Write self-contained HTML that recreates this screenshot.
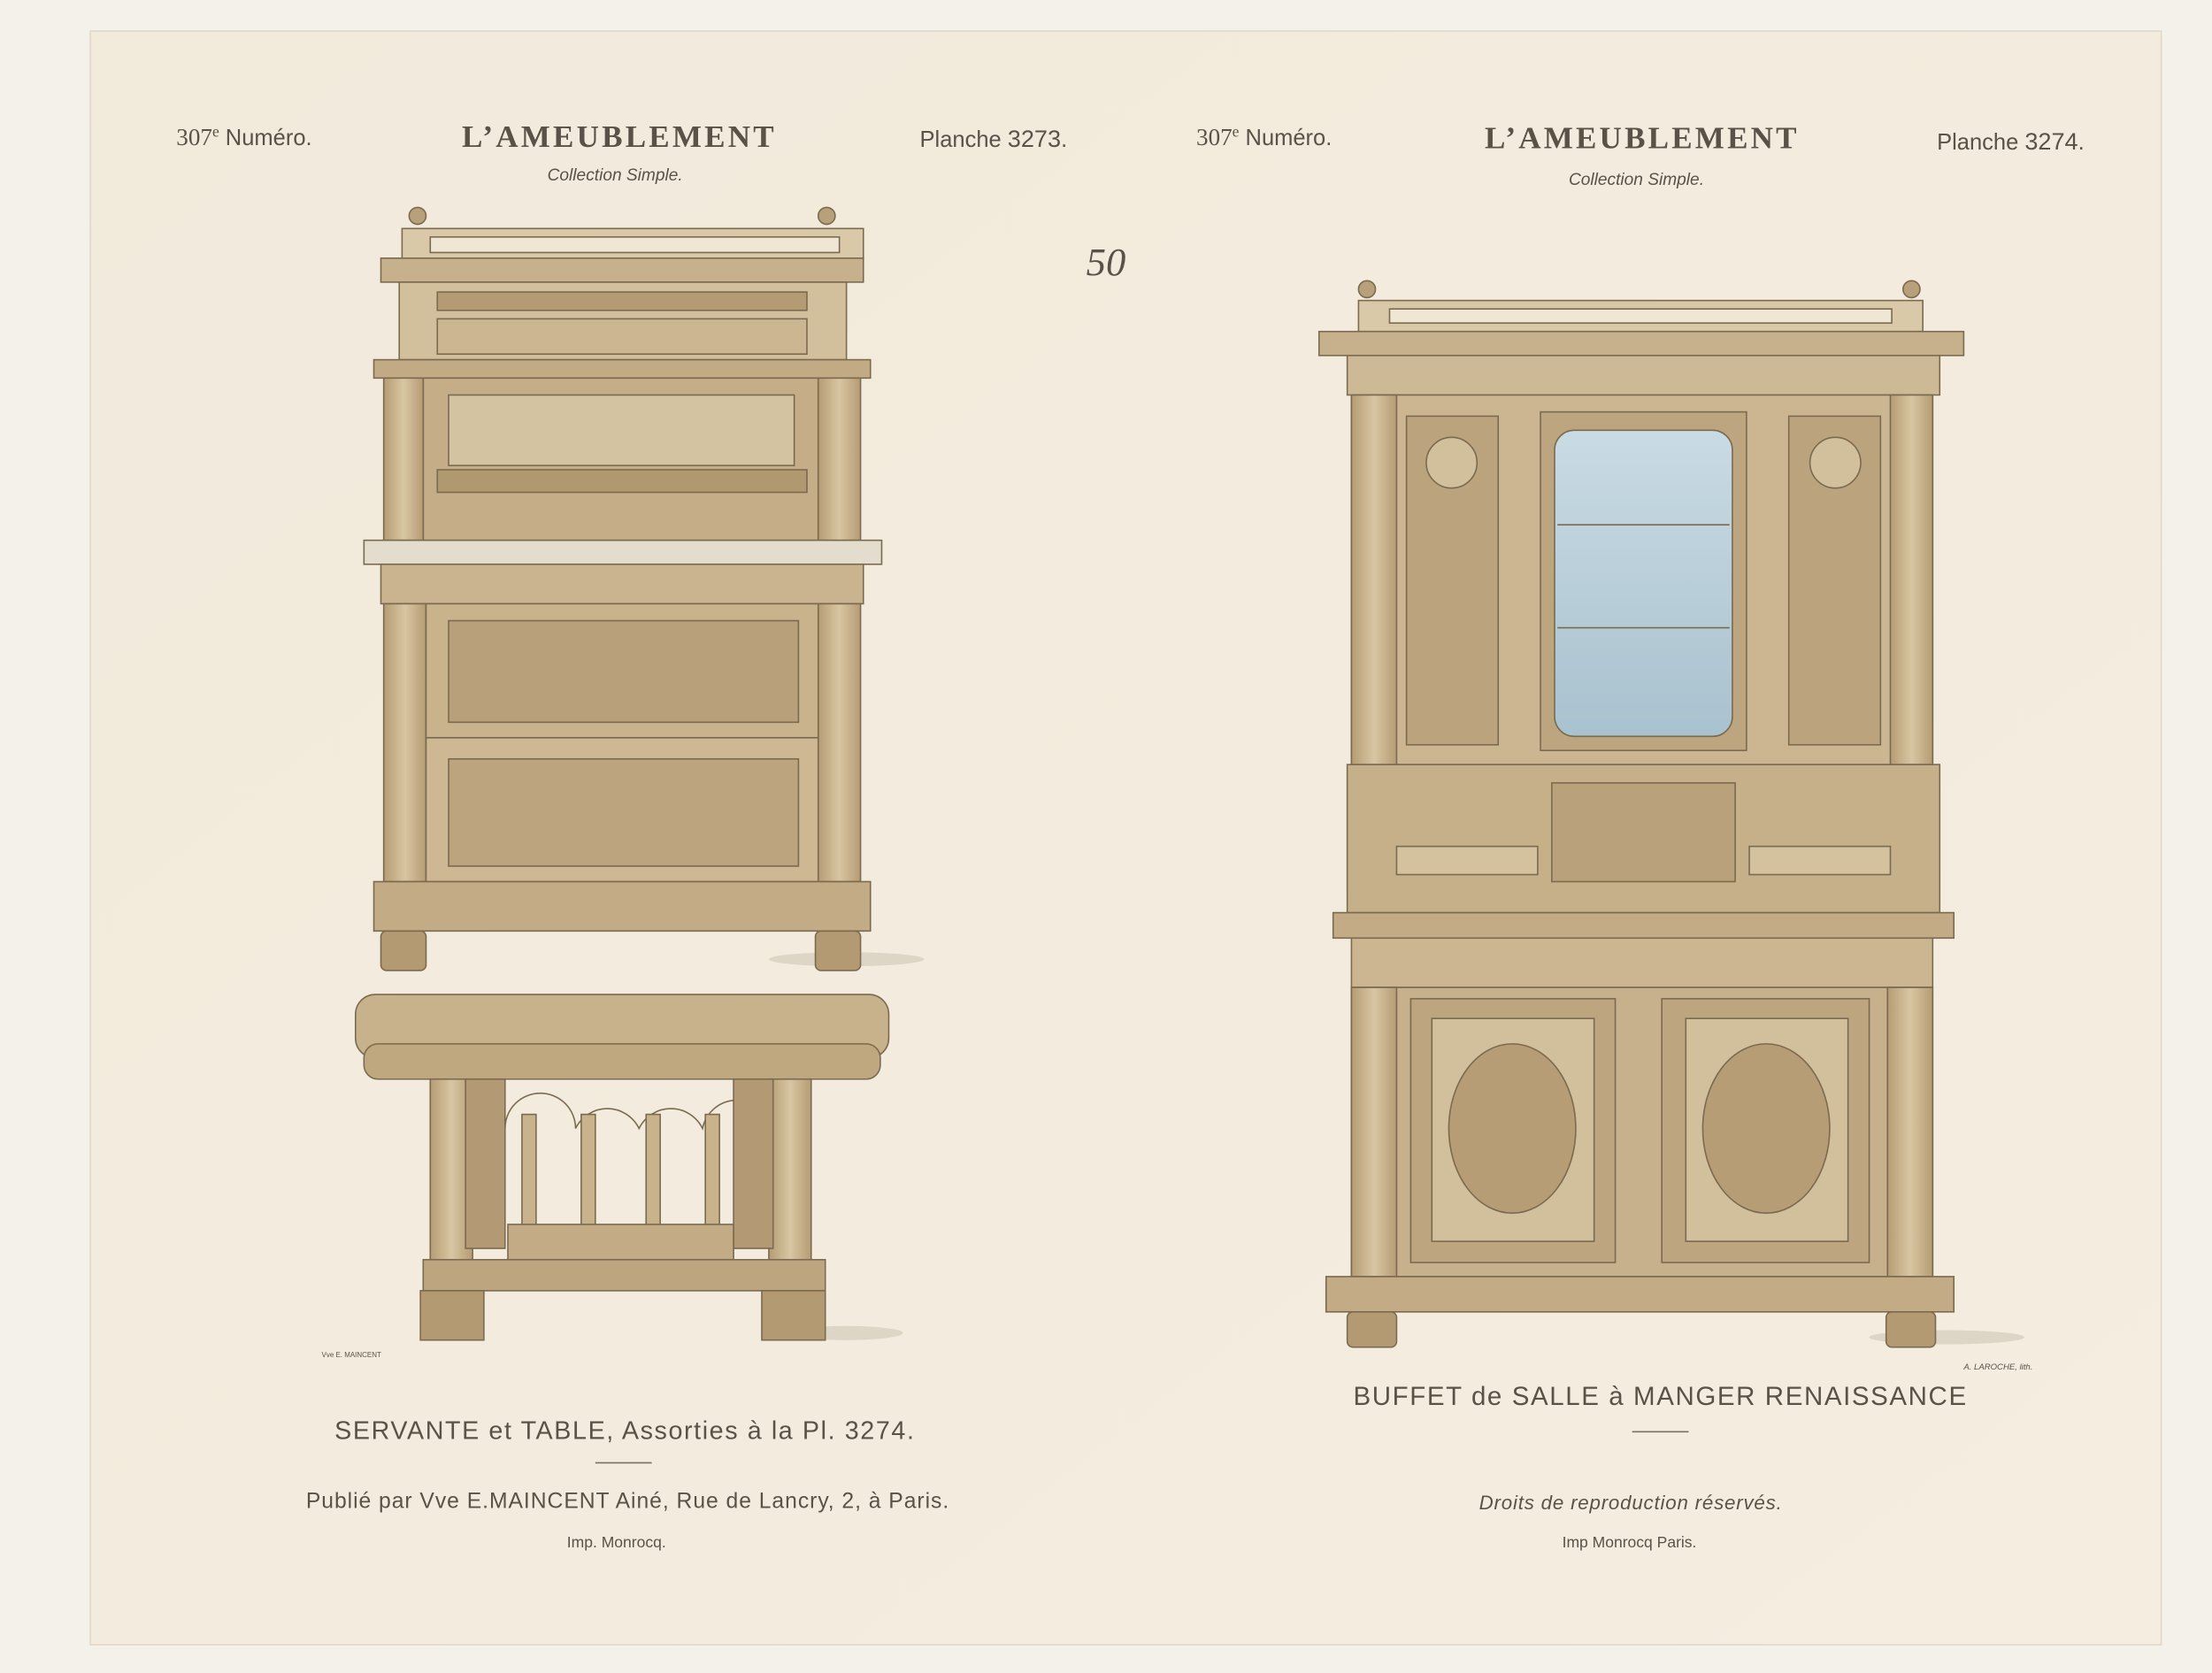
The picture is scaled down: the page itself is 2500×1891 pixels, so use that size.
<!DOCTYPE html>
<html><head><meta charset="utf-8"><style>
html,body{margin:0;padding:0;background:#f4f1eb;}
svg{display:block}
text{font-family:"Liberation Serif",serif;fill:#5a5248}
.s{font-family:"Liberation Sans",sans-serif}
</style></head><body>
<svg width="2500" height="1891" viewBox="0 0 1568 1186" xmlns="http://www.w3.org/2000/svg">
<defs>
<linearGradient id="pap" x1="0" y1="0" x2="1" y2="1"><stop offset="0" stop-color="#f2eadb"/><stop offset="1" stop-color="#f4ede0"/></linearGradient>
<linearGradient id="wd" x1="0" y1="0" x2="1" y2="0"><stop offset="0" stop-color="#b59c74"/><stop offset=".5" stop-color="#d8c6a2"/><stop offset="1" stop-color="#b59c74"/></linearGradient>
<linearGradient id="gl" x1="0" y1="0" x2="0" y2="1"><stop offset="0" stop-color="#c9dbe3"/><stop offset="1" stop-color="#a9c2cf"/></linearGradient>
</defs>
<rect x="64" y="22" width="1468" height="1144" fill="url(#pap)" stroke="#e0d8c8"/>
<g font-size="16">
<text x="125" y="103" font-size="17">307<tspan font-size="11" dy="-6">e</tspan><tspan dy="6" font-size="16" class="s"> Numéro.</tspan></text>
<text x="439" y="104" font-size="22" letter-spacing="2" text-anchor="middle" fill="#4a433b" font-weight="bold">L’AMEUBLEMENT</text>
<text x="436" y="128" font-size="12" font-style="italic" text-anchor="middle" class="s">Collection Simple.</text>
<text x="652" y="104" class="s" font-size="16">Planche <tspan font-size="17">3273</tspan>.</text>
<text x="848" y="103" font-size="17">307<tspan font-size="11" dy="-6">e</tspan><tspan dy="6" font-size="16" class="s"> Numéro.</tspan></text>
<text x="1164" y="105" font-size="22" letter-spacing="2" text-anchor="middle" fill="#4a433b" font-weight="bold">L’AMEUBLEMENT</text>
<text x="1160" y="131" font-size="12" font-style="italic" text-anchor="middle" class="s">Collection Simple.</text>
<text x="1373" y="106" class="s" font-size="16">Planche <tspan font-size="17">3274</tspan>.</text>
<text x="770" y="195" font-size="28" font-style="italic" fill="#6a6870">50</text>
<text x="443" y="1020" text-anchor="middle" class="s" font-size="18" letter-spacing="1">SERVANTE et TABLE, Assorties à la Pl. 3274.</text>
<line x1="422" y1="1037" x2="462" y2="1037" stroke="#7a7060"/>
<text x="445" y="1069" text-anchor="middle" class="s" font-size="15.5" letter-spacing="0.6">Publié par Vve E.MAINCENT Ainé, Rue de Lancry, 2, à Paris.</text>
<text x="437" y="1097" text-anchor="middle" class="s" font-size="11">Imp. Monrocq.</text>
<text x="1177" y="996" text-anchor="middle" class="s" font-size="18.5" letter-spacing="1">BUFFET de SALLE à MANGER RENAISSANCE</text>
<line x1="1157" y1="1015" x2="1197" y2="1015" stroke="#7a7060"/>
<text x="1156" y="1070" text-anchor="middle" class="s" font-size="14" font-style="italic" letter-spacing="0.5">Droits de reproduction réservés.</text>
<text x="1155" y="1097" text-anchor="middle" class="s" font-size="11">Imp Monrocq Paris.</text>
<text x="228" y="962" class="s" font-size="5">Vve E. MAINCENT</text>
<text x="1392" y="971" class="s" font-size="6" font-style="italic">A. LAROCHE, lith.</text>
</g>
<!-- SERVANTE -->
<g stroke="#7a6a50" stroke-width="1">
<ellipse cx="600" cy="680" rx="55" ry="5" fill="#ddd5c5" stroke="none"/>
<circle cx="296" cy="153" r="6" fill="#b8a07a"/><circle cx="586" cy="153" r="6" fill="#b8a07a"/>
<rect x="285" y="162" width="327" height="22" fill="#d9c9a8"/>
<rect x="305" y="168" width="290" height="11" fill="#efe6d3"/>
<rect x="270" y="183" width="342" height="17" fill="#c7b18c"/>
<rect x="283" y="200" width="317" height="55" fill="#d2bf9c"/>
<rect x="310" y="207" width="262" height="13" fill="#b49b74"/>
<rect x="310" y="226" width="262" height="25" fill="#cbb691"/>
<rect x="265" y="255" width="352" height="13" fill="#c2ab84"/>
<rect x="300" y="268" width="280" height="115" fill="#c4ad87"/>
<rect x="318" y="280" width="245" height="50" fill="#d4c3a1"/>
<rect x="310" y="333" width="262" height="16" fill="#b09870"/>
<rect x="272" y="268" width="28" height="115" fill="url(#wd)"/>
<rect x="580" y="268" width="30" height="115" fill="url(#wd)"/>
<rect x="258" y="383" width="367" height="17" fill="#e4dccc"/>
<rect x="270" y="400" width="342" height="28" fill="#c9b48f"/>
<rect x="272" y="428" width="30" height="197" fill="url(#wd)"/>
<rect x="580" y="428" width="30" height="197" fill="url(#wd)"/>
<rect x="302" y="428" width="278" height="95" fill="#c9b38d"/>
<rect x="318" y="440" width="248" height="72" fill="#b8a07a"/>
<rect x="302" y="523" width="278" height="102" fill="#cdb893"/>
<rect x="318" y="538" width="248" height="76" fill="#bca47e"/>
<rect x="265" y="625" width="352" height="35" fill="#c2ab85"/>
<rect x="270" y="660" width="32" height="28" rx="4" fill="#b39a73"/>
<rect x="578" y="660" width="32" height="28" rx="4" fill="#b39a73"/>
</g>
<!-- TABLE -->
<g stroke="#7a6a50" stroke-width="1">
<ellipse cx="600" cy="945" rx="40" ry="5" fill="#ddd5c5" stroke="none"/>
<rect x="252" y="705" width="378" height="45" rx="14" fill="#c8b28c"/>
<rect x="258" y="740" width="366" height="25" rx="10" fill="#bfa880"/>
<rect x="305" y="765" width="30" height="150" fill="url(#wd)"/>
<rect x="545" y="765" width="30" height="150" fill="url(#wd)"/>
<rect x="330" y="765" width="28" height="120" fill="#b39a74"/>
<rect x="520" y="765" width="28" height="120" fill="#b39a74"/>
<path d="M358 800 a25 25 0 0 1 50 0 a25 25 0 0 1 45 0 a25 25 0 0 1 45 0 a25 25 0 0 1 22 -20" fill="none"/>
<rect x="370" y="790" width="10" height="80" fill="#c9b38d"/>
<rect x="412" y="790" width="10" height="80" fill="#c9b38d"/>
<rect x="458" y="790" width="10" height="80" fill="#c9b38d"/>
<rect x="500" y="790" width="10" height="80" fill="#c9b38d"/>
<rect x="360" y="868" width="160" height="25" fill="#c2ab85"/>
<rect x="300" y="893" width="285" height="22" fill="#bda67f"/>
<rect x="298" y="915" width="45" height="35" fill="#b39a73"/>
<rect x="540" y="915" width="45" height="35" fill="#b39a73"/>
</g>
<!-- BUFFET -->
<g stroke="#7a6a50" stroke-width="1">
<ellipse cx="1380" cy="948" rx="55" ry="5" fill="#ddd5c5" stroke="none"/>
<circle cx="969" cy="205" r="6" fill="#b8a07a"/><circle cx="1355" cy="205" r="6" fill="#b8a07a"/>
<rect x="963" y="213" width="400" height="22" fill="#d9c9a8"/>
<rect x="985" y="219" width="356" height="10" fill="#efe6d3"/>
<rect x="935" y="235" width="457" height="17" fill="#c7b18c"/>
<rect x="955" y="252" width="420" height="28" fill="#cdb995"/>
<rect x="958" y="280" width="412" height="262" fill="#cbb691"/>
<rect x="958" y="280" width="32" height="262" fill="url(#wd)"/>
<rect x="1340" y="280" width="30" height="262" fill="url(#wd)"/>
<rect x="997" y="295" width="65" height="233" fill="#bba37d"/>
<rect x="1268" y="295" width="65" height="233" fill="#bba37d"/>
<circle cx="1029" cy="328" r="18" fill="#d2bf9b"/><circle cx="1301" cy="328" r="18" fill="#d2bf9b"/>
<rect x="1092" y="292" width="146" height="240" fill="#bda57f"/>
<rect x="1102" y="305" width="126" height="217" rx="14" fill="url(#gl)"/>
<line x1="1104" y1="372" x2="1226" y2="372"/><line x1="1104" y1="445" x2="1226" y2="445"/>
<rect x="955" y="542" width="420" height="105" fill="#c6b08a"/>
<rect x="1100" y="555" width="130" height="70" fill="#b9a17b"/>
<rect x="990" y="600" width="100" height="20" fill="#d4c29f"/>
<rect x="1240" y="600" width="100" height="20" fill="#d4c29f"/>
<rect x="945" y="647" width="440" height="18" fill="#c2ab85"/>
<rect x="958" y="665" width="412" height="35" fill="#cbb691"/>
<rect x="958" y="700" width="412" height="205" fill="#c7b18c"/>
<rect x="958" y="700" width="32" height="205" fill="url(#wd)"/>
<rect x="1338" y="700" width="32" height="205" fill="url(#wd)"/>
<rect x="1000" y="708" width="145" height="187" fill="#bda57f"/>
<rect x="1178" y="708" width="147" height="187" fill="#bda57f"/>
<rect x="1015" y="722" width="115" height="158" fill="#d2bf9b"/>
<rect x="1195" y="722" width="115" height="158" fill="#d2bf9b"/>
<ellipse cx="1072" cy="800" rx="45" ry="60" fill="#b69d76"/>
<ellipse cx="1252" cy="800" rx="45" ry="60" fill="#b69d76"/>
<rect x="940" y="905" width="445" height="25" fill="#c2ab85"/>
<rect x="955" y="930" width="35" height="25" rx="4" fill="#b39a73"/>
<rect x="1337" y="930" width="35" height="25" rx="4" fill="#b39a73"/>
</g>
</svg>
</body></html>
